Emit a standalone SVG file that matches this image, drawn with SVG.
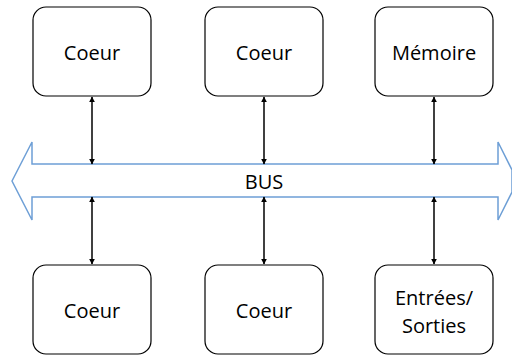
<svg xmlns="http://www.w3.org/2000/svg" width="512" height="356" viewBox="0 0 512 356">
  <defs>
    <marker id="ah" viewBox="0 0 10 10" refX="9" refY="5" markerWidth="6" markerHeight="6" orient="auto-start-reverse" markerUnits="userSpaceOnUse">
      <path d="M0,0 L10,5 L0,10 z" fill="#000"/>
    </marker>
  </defs>
  <style>
    .box { fill: #fff; stroke: #000; stroke-width: 1.2; }
    .lbl { font-family: "Open Sans", "Liberation Sans", sans-serif; font-size: 20px; fill: #000; text-anchor: middle; }
    .link { stroke: #000; stroke-width: 1.5; fill: none; marker-start: url(#ah); marker-end: url(#ah); }
    .bus { fill: #fff; stroke: #6e9fd6; stroke-width: 1.5; }
  </style>
  <rect width="512" height="356" fill="#fff"/>

  <g id="bus">
    <path class="bus" d="M12,181 L32,142 L32,164 L498,164 L498,142 L512,170 L512,192 L498,220 L498,197 L32,197 L32,220 Z"/>
    <text class="lbl" x="264" y="188.5">BUS</text>
  </g>

  <g id="connectors">
    <line class="link" x1="92" y1="97" x2="92" y2="164"/>
    <line class="link" x1="264" y1="97" x2="264" y2="164"/>
    <line class="link" x1="434" y1="97" x2="434" y2="164"/>
    <line class="link" x1="92" y1="197" x2="92" y2="264"/>
    <line class="link" x1="264" y1="197" x2="264" y2="264"/>
    <line class="link" x1="434" y1="197" x2="434" y2="264"/>
  </g>

  <g id="coeur-1">
    <rect class="box" x="33" y="7" width="118" height="89" rx="13"/>
    <text class="lbl" x="92" y="60">Coeur</text>
  </g>
  <g id="coeur-2">
    <rect class="box" x="205" y="7" width="118" height="89" rx="13"/>
    <text class="lbl" x="264" y="60">Coeur</text>
  </g>
  <g id="memoire">
    <rect class="box" x="375" y="7" width="118" height="89" rx="13"/>
    <text class="lbl" x="434" y="60">Mémoire</text>
  </g>
  <g id="coeur-3">
    <rect class="box" x="33" y="265" width="118" height="89" rx="13"/>
    <text class="lbl" x="92" y="318">Coeur</text>
  </g>
  <g id="coeur-4">
    <rect class="box" x="205" y="265" width="118" height="89" rx="13"/>
    <text class="lbl" x="264" y="318">Coeur</text>
  </g>
  <g id="entrees-sorties">
    <rect class="box" x="375" y="265" width="118" height="89" rx="13"/>
    <text class="lbl" x="434" y="305">Entrées/</text>
    <text class="lbl" x="434" y="333">Sorties</text>
  </g>
</svg>
